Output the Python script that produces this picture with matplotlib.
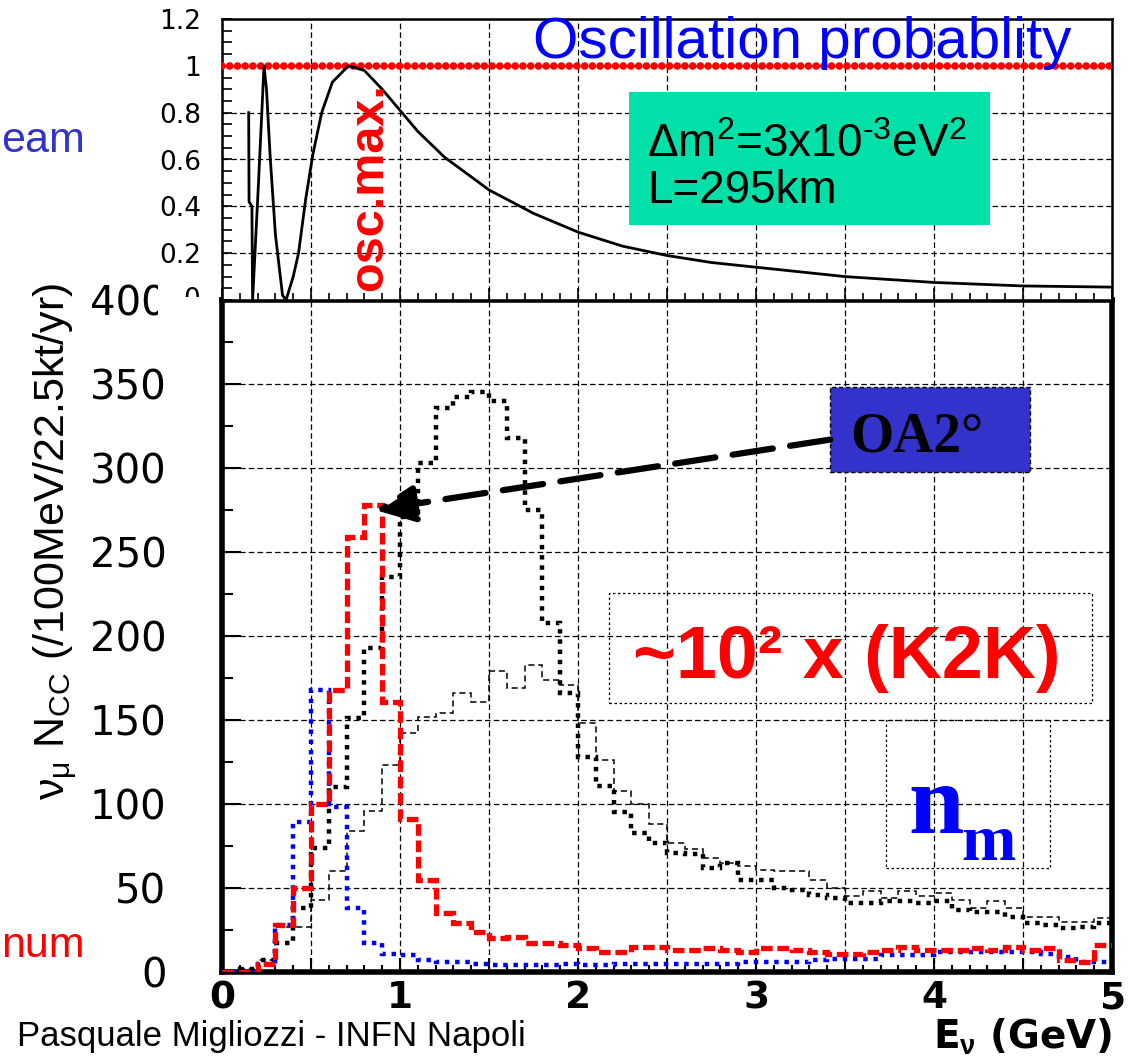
import numpy as np
import matplotlib
matplotlib.use("Agg")
import matplotlib.pyplot as plt
from matplotlib.patches import Rectangle
from matplotlib.ticker import MultipleLocator, FuncFormatter
from matplotlib.transforms import Bbox

plt.rcParams['font.family'] = ['Liberation Sans', 'DejaVu Sans']
plt.rcParams['mathtext.fontset'] = 'custom'
plt.rcParams['mathtext.rm'] = 'Liberation Sans'
plt.rcParams['mathtext.it'] = 'Liberation Sans:italic'
plt.rcParams['mathtext.bf'] = 'Liberation Sans:bold'

W, H = 1140, 1059

# ---- oscillation probability (top pad)
e_osc = [0.150, 0.152, 0.168, 0.172, 0.205, 0.236, 0.250, 0.270, 0.300, 0.340, 0.360,
         0.400, 0.430, 0.470, 0.510, 0.560, 0.620, 0.710, 0.800, 0.900, 1.00, 1.10,
         1.25, 1.50, 1.75, 2.00, 2.25, 2.50, 2.75, 3.00, 3.50, 4.00, 4.50, 5.00]
p_osc = [0.80, 0.42, 0.40, 0.00, 0.50, 1.00, 0.90, 0.62, 0.28, 0.02, 0.00,
         0.10, 0.20, 0.43, 0.62, 0.80, 0.93, 1.00, 0.98, 0.90, 0.81, 0.72,
         0.61, 0.47, 0.37, 0.29, 0.23, 0.19, 0.16, 0.14, 0.10, 0.075, 0.06, 0.055]
p_max = 1.0

# ---- nu_mu CC spectra, 100 MeV bins from 0 to 5 GeV
edges = np.linspace(0, 5, 51)
oa2_red = [0, 0, 5, 28, 50, 100, 168, 259, 278, 161,
           91, 55, 35, 29, 24, 20, 21, 17, 17, 16,
           14, 12, 12, 15, 15, 13, 13, 14, 13, 12,
           14, 14, 13, 12, 11, 11, 12, 13, 15, 13,
           13, 13, 14, 13, 15, 13, 14, 7, 6, 16]
thick_dot = [0, 2, 7, 17, 38, 74, 110, 151, 193, 235,
             271, 303, 336, 342, 345, 340, 318, 275, 208, 166,
             128, 111, 95, 83, 77, 71, 70, 62, 65, 55,
             55, 50, 49, 46, 44, 41, 41, 42, 42, 41,
             42, 37, 36, 36, 33, 29, 28, 26, 27, 29]
thin_dash = [0, 2, 7, 27, 27, 43, 60, 84, 96, 123,
             142, 152, 154, 166, 161, 179, 169, 183, 174, 171,
             148, 126, 108, 100, 88, 77, 73, 68, 65, 63,
             61, 60, 60, 55, 50, 45, 48, 44, 48, 45,
             47, 43, 38, 42, 38, 33, 33, 30, 30, 32]
blue_dot = [0, 0, 5, 28, 89, 168, 98, 38, 17, 11,
            10, 7, 6, 6, 5, 4, 4, 4, 4, 5,
            4, 4, 5, 5, 5, 5, 5, 5, 5, 6,
            6, 6, 6, 7, 8, 8, 8, 10, 10, 10,
            12, 12, 12, 12, 12, 12, 11, 9, 6, 6]

fig = plt.figure(figsize=(W / 100, H / 100), dpi=100)


def fx(px):
    return px / W


def fy(py):
    return 1 - py / H


grid_kw = dict(color='black', lw=0.9, linestyle=(0, (4.5, 2.5)))

# ================= top pad =================
ax_top = fig.add_axes([fx(222), fy(300), fx(1112) - fx(222), fy(19) - fy(300)], zorder=3)
ax_top.set_xlim(0, 5)
ax_top.set_ylim(0, 1.2)
ax_top.xaxis.set_major_locator(MultipleLocator(0.5))
ax_top.xaxis.set_minor_locator(MultipleLocator(0.1))
ax_top.yaxis.set_major_locator(MultipleLocator(0.2))
ax_top.yaxis.set_minor_locator(MultipleLocator(0.05))
ax_top.yaxis.set_major_formatter(FuncFormatter(lambda v, _: '' if abs(v) < 1e-9 else f"{v:g}"))
ax_top.xaxis.set_major_formatter(FuncFormatter(lambda v, _: ''))
ax_top.tick_params(axis='both', which='both', direction='in', color='black')
ax_top.tick_params(axis='x', which='major', length=9, width=1.2)
ax_top.tick_params(axis='x', which='minor', length=5, width=1.2)
ax_top.tick_params(axis='y', which='both', length=7, width=1.2, pad=15,
                   labelsize=19, labelfontfamily='DejaVu Sans')
ax_top.grid(True, which='major', **grid_kw)
for s in ax_top.spines.values():
    s.set_linewidth(1.8)

ax_top.plot([0, 5], [p_max, p_max], color='red', lw=5.5,
            linestyle=(0, (0.01, 1.0)), dash_capstyle='round', zorder=3)
ax_top.plot(e_osc, p_osc, color='black', lw=2.0, zorder=4)

ax_top.text(4.77, 1.034, 'Oscillation probablity', color='blue', fontsize=42,
            ha='right', va='baseline', zorder=6)
ax_top.add_patch(Rectangle((2.286, 0.32), 2.028, 0.569, facecolor='#00e0a8',
                           edgecolor='none', zorder=5))
ax_top.text(2.387, 0.611, r'$\Delta$m$^2$=3x10$^{\text{-}3}$eV$^2$', fontsize=33,
            ha='left', va='baseline', zorder=6)
ax_top.text(2.387, 0.415, 'L=295km', fontsize=33, ha='left', va='baseline', zorder=6)
ax_top.text(0.83, 0.04, 'osc.max.', color='red', fontsize=35, fontweight='bold',
            rotation=90, ha='center', va='bottom', zorder=6)

# ================= bottom pad =================
ax = fig.add_axes([fx(222), fy(972), fx(1112) - fx(222), fy(300) - fy(972)], zorder=2)
ax.set_xlim(0, 5)
ax.set_ylim(0, 400)
ax.xaxis.set_major_locator(MultipleLocator(0.5))
ax.xaxis.set_minor_locator(MultipleLocator(0.1))
ax.yaxis.set_major_locator(MultipleLocator(50))
ax.yaxis.set_minor_locator(MultipleLocator(25))
ax.xaxis.set_major_formatter(FuncFormatter(lambda v, _: f"{v:g}" if abs(v - round(v)) < 1e-9 else ''))
ax.tick_params(axis='both', which='both', direction='in', color='black')
ax.tick_params(axis='x', which='major', length=10, width=1.5, pad=6,
               labelsize=27, labelfontfamily='DejaVu Sans')
ax.tick_params(axis='x', which='minor', length=5, width=1.5)
ax.tick_params(axis='y', which='major', length=14, width=1.5, pad=40,
               labelsize=29, labelfontfamily='DejaVu Sans')
ax.tick_params(axis='y', which='minor', length=8, width=1.5)
for lab in ax.get_xticklabels():
    lab.set_fontweight('bold')
ax.grid(True, which='major', **grid_kw)
ax.set_axisbelow(True)
for s in ax.spines.values():
    s.set_linewidth(4)

ax.stairs(thin_dash, edges, baseline=None, color='black', lw=1.1,
          linestyle=(0, (4, 2.5)), zorder=3)
ax.stairs(thick_dot, edges, baseline=None, color='black', lw=3.2,
          linestyle=(0, (1, 1.3)), zorder=4)
ax.stairs(blue_dot, edges, baseline=None, color='blue', lw=3.2,
          linestyle=(0, (1, 1.3)), zorder=5)
ax.stairs(oa2_red, edges, baseline=None, color='red', lw=3.8,
          linestyle=(0, (2.2, 0.9)), zorder=6)

ax.set_ylabel(r'$\mathrm{\nu}_{\mathrm{\mu}}$ N$_{\mathrm{CC}}$ (/100MeV/22.5kt/yr)', fontsize=31)
ax.yaxis.set_label_coords(-0.16, 0.641)
ax.set_xlabel(r'E$_{\mathbf{\nu}}$ (GeV)', fontsize=28, fontweight='bold',
              family='DejaVu Sans', loc='right')
ax.xaxis.set_label_coords(1.0, -0.066)

# OA2 box and arrow to the red peak
box_x0, box_x1, box_y0, box_y1 = 3.417, 4.538, 297.6, 348.2
ax.add_patch(Rectangle((box_x0, box_y0), box_x1 - box_x0, box_y1 - box_y0,
                       facecolor='#3333cc', edgecolor='black', lw=1.0,
                       linestyle=(0, (3, 2)), zorder=7))
ax.text(3.53, 310, 'OA2°', family='Liberation Serif', fontweight='bold', fontsize=40,
        ha='left', va='baseline', zorder=8)
peak = int(np.argmax(oa2_red))
tip = (edges[peak] + 0.06, oa2_red[peak] - 3)
tail = (box_x0, (box_y0 + box_y1) / 2 - 6)
ax.annotate('', xy=tip, xytext=tail, zorder=8,
            arrowprops=dict(arrowstyle='-|>,head_length=0.6,head_width=0.28',
                            mutation_scale=40, lw=4.5, color='black',
                            linestyle=(0, (6.5, 2.8)), shrinkA=0, shrinkB=0))

# K2K comparison
ax.add_patch(Rectangle((2.174, 160), 4.885 - 2.174, 225.6 - 160, fill=False,
                       edgecolor='black', lw=0.9, linestyle=(0, (2, 2)), zorder=7))
ax.text(3.51, 175, '~10² x (K2K)', color='red', fontsize=53, fontweight='bold',
        ha='center', va='baseline', zorder=8)

# nu_mu tag as rendered without the symbol font
ax.add_patch(Rectangle((3.73, 62), 4.65 - 3.73, 150 - 62, fill=False,
                       edgecolor='black', lw=0.9, linestyle=(0, (2, 2)), zorder=7))
ax.text(3.854, 82.7, 'n', color='blue', family='Liberation Serif', fontweight='bold',
        fontsize=72, ha='left', va='baseline', zorder=8)
ax.text(4.151, 66.7, 'm', color='blue', family='Liberation Serif', fontweight='bold',
        fontsize=47, ha='left', va='baseline', zorder=8)

# overlap of the two pads at the y-axis corner
fig.add_artist(Rectangle((fx(158), fy(320)), fx(219) - fx(158), fy(280) - fy(320),
                         transform=fig.transFigure, facecolor='white',
                         edgecolor='none', zorder=2.5))
zero_top = fig.text(fx(192), fy(300), '0', fontsize=19, family='DejaVu Sans',
                    ha='center', va='center', zorder=4)
zero_top.set_clip_box(Bbox.from_extents(0, H - 297, W, H))
zero_top.set_clip_on(True)

# slide text around the plot
fig.text(fx(85), fy(152), 'eam', color='#3333cc', fontsize=31,
         ha='right', va='baseline')
fig.text(fx(85), fy(957), 'num', color='red', fontsize=31,
         ha='right', va='baseline')
fig.text(fx(17), fy(1046), 'Pasquale Migliozzi - INFN Napoli', fontsize=25,
         ha='left', va='baseline')

fig.savefig('out.png', dpi=100)
